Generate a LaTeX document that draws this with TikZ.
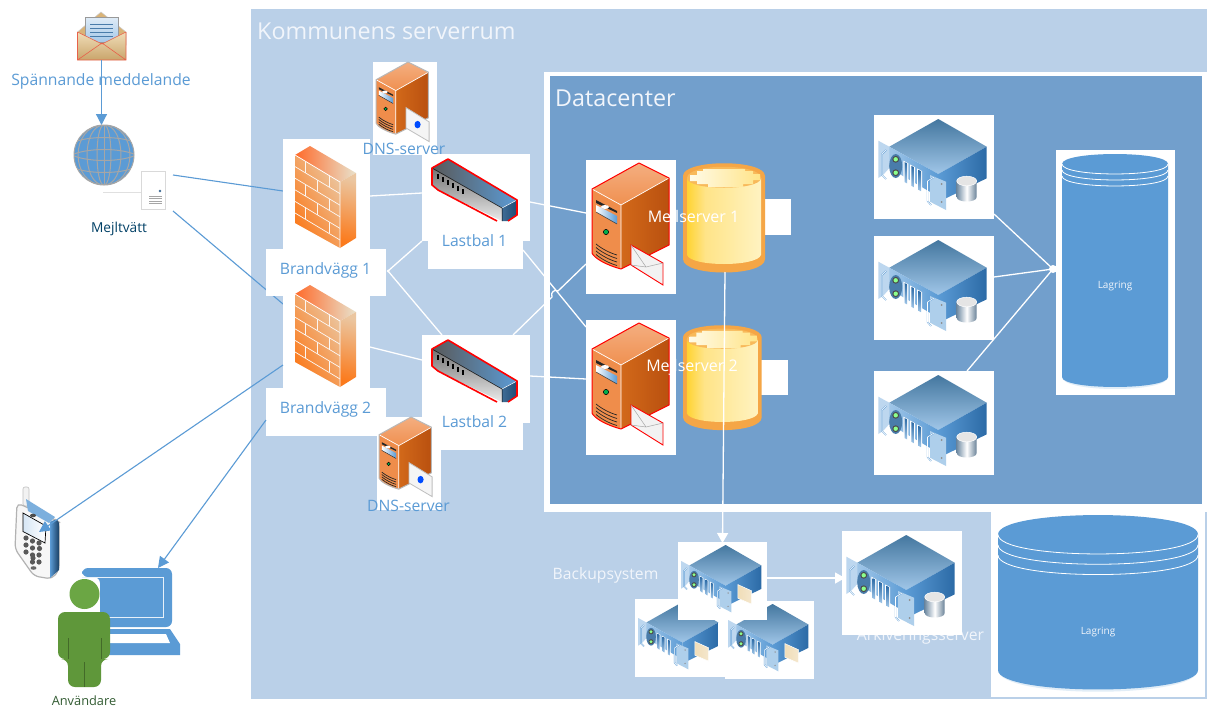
\documentclass[tikz,border=0pt]{standalone}
\usepackage{fontspec}
\setmainfont{Open Sans}
\usetikzlibrary{arrows.meta}
\definecolor{panel}{HTML}{BAD0E8}
\definecolor{dcblue}{HTML}{729FCC}
\definecolor{office}{HTML}{5B9BD5}
\definecolor{txtsoft}{HTML}{F1F5FB}
\definecolor{orTop}{HTML}{F4AE80}
\definecolor{orFront}{HTML}{EF8D4B}
\definecolor{orA}{HTML}{D2691A}
\definecolor{orB}{HTML}{B9500F}
\definecolor{fwPale}{HTML}{EBC6A0}
\definecolor{fwOr}{HTML}{FB7A1C}
\definecolor{fwRed}{HTML}{FF6A2A}
\definecolor{fwCream}{HTML}{E8E2CC}
\definecolor{rkA}{HTML}{44779F}
\definecolor{rkB}{HTML}{A0C6E8}
\definecolor{rkC}{HTML}{2B6AA6}
\definecolor{rkD}{HTML}{5B9BD5}
\definecolor{yA}{HTML}{FFD22E}
\definecolor{yB}{HTML}{FFE488}
\definecolor{yC}{HTML}{FFF3C2}
\definecolor{yRim}{HTML}{F5A646}
\definecolor{mlA}{HTML}{D9B377}
\definecolor{mlB}{HTML}{F0DDB8}
\definecolor{mlC}{HTML}{C9A56B}
\definecolor{grHead}{HTML}{6BA644}
\definecolor{grBody}{HTML}{5F973A}
\pgfdeclarelayer{panels}
\pgfdeclarelayer{wires}
\pgfsetlayers{panels,wires,main}
\tikzset{
  tile/.style={fill=white,draw=none,inner sep=0pt,outer sep=0pt},
  wire/.style={draw=white,line width=1.3pt},
  bwire/.style={draw=office,line width=1.1pt},
  barrow/.style={bwire,-{Triangle[length=11pt,width=11pt]}},
  warrow/.style={wire,-{Triangle[length=10pt,width=11pt]}},
  lbl/.style={inner sep=0pt,text=office,font=\fontsize{15.7}{18}\selectfont},
  sml/.style={inner sep=0pt,text=txtsoft,font=\fontsize{15.7}{18}\selectfont},
  mserv/.style={inner sep=0pt,text=white,font=\fontsize{16}{18}\selectfont},
  title/.style={inner sep=0pt,anchor=west,text=txtsoft,font=\fontsize{23.3}{26}\selectfont},
  lagtxt/.style={inner sep=0pt,text=txtsoft,font=\fontsize{10}{12}\selectfont},
}
\newcommand{\tile}[5]{%
  \pgfmathsetmacro\tlW{#4-#2}\pgfmathsetmacro\tlH{#5-#3}%
  \node[tile,minimum width=\tlW pt,minimum height=\tlH pt] (#1) at ({(#2+#4)/2},{(#3+#5)/2}) {};}
% ---------- storage cylinder: x1,ytop,x2,ybottomside,ry,gap
\newcommand{\cyl}[6]{%
  \fill[office!18] (#1,#4) .. controls (#1,#4+1.33*#5+3) and (#3,#4+1.33*#5+3) .. (#3,#4) -- cycle;
  \fill[office] (#1,#2+#5) .. controls (#1,#2+#5-1.33*#5) and (#3,#2+#5-1.33*#5) .. (#3,#2+#5)
     -- (#3,#4) .. controls (#3,#4+1.33*#5) and (#1,#4+1.33*#5) .. (#1,#4) -- cycle;
  \foreach \k in {0,1,2}{
    \draw[white,line width=.8pt] (#1,#2+#5+\k*#6) .. controls (#1,#2+#5+\k*#6+1.33*#5) and (#3,#2+#5+\k*#6+1.33*#5) .. (#3,#2+#5+\k*#6);
  }}
% ---------- orange tower server body
\newcommand{\srvbody}[1]{%
  \path[top color=orTop,bottom color=orFront!90!orTop] (53,3) -- (83,18) -- (35,45) -- (6,29) -- cycle;
  \path[left color=orA,right color=orB] (35,45) -- (83,18) -- (83,85) -- (35,109) -- cycle;
  \path[fill=orFront] (6,29) -- (35,45) -- (35,109) .. controls (20,105) and (8,98) .. (6,93) -- cycle;
  \draw[white,line width=.7pt] (6,29) -- (35,45) -- (83,18) (35,45) -- (35,109);
  \draw[#1,line width=1pt,line join=round] (6,29) -- (53,3) -- (83,18) -- (83,85) -- (35,109) .. controls (20,105) and (8,98) .. (6,93) -- cycle;
  \fill[black!85] (10,40) -- (31,51) -- (31,53) -- (10,43) -- cycle;
  \fill[white] (19,47) ellipse (4 and 2);
  \path[left color=white,right color=office] (10,45) -- (31,56) -- (31,64) -- (10,52) -- cycle;
  \draw[black!80,line width=.5pt] (10,52) -- (31,64);
  \fill[green!55!black!70!cyan] (20,72) circle (2.6);
  \draw[black,line width=.5pt] (20,72) circle (2.6);
  \foreach \d in {0,3.5,7,10.5}{\draw[black!85,line width=.7pt] (10,{84+\d}) .. controls (16,{89+\d}) and (24,{93+\d}) .. (31,{95+\d});}
}
% ---------- blue rack server
\newcommand{\rackbody}{%
  \path[top color=rkA,bottom color=rkB] (64.3,4) -- (112.7,31.7) -- (64.3,59) -- (15.3,31.7) -- cycle;
  \path[left color=rkD,right color=rkC] (64.3,59) -- (112.7,31.7) -- (112.7,63.3) -- (72,83.3) -- (64.3,81.7) -- cycle;
  \path[left color=rkB,right color=rkD] (15.3,31.7) -- (64.3,59) -- (64.3,81.7) -- (15.3,53) -- cycle;
  \path[fill=rkB!70!white] (4.3,25.7) -- (15.3,31.7) -- (15.3,53) -- (9,60) -- (4.3,63) -- cycle;
  \draw[rkD,line width=1.4pt] (12,35) -- (8,39) -- (8,60) -- (12,64);
  \draw[white,line width=.6pt] (12,35) -- (8,39) -- (8,60) -- (12,64);
  \fill[rkD!80!black] (21.7,51) ellipse (6.5 and 12);
  \foreach \ly in {44.3,57.7}{\fill[black!70] (21.7,\ly) circle (3.4); \fill[green!45!white] (21.7,\ly) circle (2.2);}
  \foreach \sx in {29.3,36.2,43.2}{
    \path[fill=white] (\sx,{45.7+(\sx-29.3)*.56}) -- ++(5,2.7) -- ++(0,22.7) -- ++(-5,-2.7) -- cycle;
    \path[bottom color=rkB,top color=rkC] ({\sx+1.2},{47+(\sx-29.3)*.56}) -- ++(2.6,1.4) -- ++(0,20) -- ++(-2.6,-1.4) -- cycle;
  }
  \path[fill=rkB!85!white] (56,60) -- (72,66.7) -- (72,95) -- (56,86.7) -- cycle;
  \draw[rkD,line width=1.4pt] (60,62) -- (53.5,66) -- (53.5,86) -- (57,90);
  \draw[white,line width=.6pt] (60,62) -- (53.5,66) -- (53.5,86) -- (57,90);
  \fill[black!45] (67.7,69) circle (1) (67.7,87) circle (1);
}
\tikzset{
 mailsrv/.pic={
  \srvbody{red}
  \path[fill=black!5,draw=red,line width=.9pt] (45,85) -- (77,103) -- (77,125) -- (45,105) -- cycle;
  \draw[black!35,line width=.5pt] (45,85) -- (60,107) -- (77,103) (45,105) -- (60,107);
 },
 dnssrv/.pic={
  \srvbody{black!28}
  \path[fill=black!4,draw=black!25,line width=.8pt] (50,70) -- (84,91) -- (84,120) -- (50,100) -- cycle;
  \fill[blue!70!cyan] (67,95) ellipse (4.5 and 5.5);
 },
 rackdb/.pic={
  \rackbody
  \path[left color=black!30!rkB,right color=black!35!rkB,middle color=white] (82.7,66) -- (82.7,82) .. controls (82.7,88) and (102.7,88) .. (102.7,82) -- (102.7,66) -- cycle;
  \path[fill=black!10,draw=white,line width=.5pt] (92.7,66) ellipse (10 and 4.8);
 },
 rackpaper/.pic={
  \rackbody
  \path[left color=mlB,right color=mlB!70!white,draw=white,line width=.5pt] (81,57.6) -- (99.6,66) -- (99.6,84) -- (81,76) -- cycle;
 },
 % ---------- firewall
 fwall/.pic={
  \path[left color=fwRed,right color=fwCream] (0,9) -- (15,0) -- (61,27) -- (45,36) -- cycle;
  \path[top color=fwPale,bottom color=fwOr,shading angle=-60] (0,9) -- (45,36) -- (45,102) -- (0,77) -- cycle;
  \path[top color=fwPale,bottom color=fwOr,shading angle=-15] (45,36) -- (61,27) -- (61,92) -- (45,102) -- cycle;
  \draw[white,line width=.7pt] (0,9) -- (45,36) -- (45,102);
  \foreach \k in {1,...,5}{\draw[white!85!fwPale,line width=.7pt] (0,{9+\k*11.6}) -- (45,{36+\k*11.6});}
  \foreach \r/\jx in {0/34,0/10,1/22,2/34,2/10,3/22,4/34,4/10}{
    \draw[white!85!fwPale,line width=.7pt] (\jx,{9+\r*11.6+.6*\jx}) -- (\jx,{9+(\r+1)*11.6+.6*\jx});}
 },
 % ---------- load balancer
 lbal/.pic={
  \path[left color=black!65,right color=office] (0,9) -- (16,0) -- (85,41) -- (70,49) -- cycle;
  \path[top color=black!55,bottom color=black!8] (0,9) -- (70,49) -- (70,62) -- (6,31) -- (0,26) -- cycle;
  \path[left color=office!70!black,right color=rkC!70!black] (70,49) -- (85,41) -- (85,56) -- (76,62) -- (70,62) -- cycle;
  \draw[white,line width=.5pt] (70,49) -- (85,41);
  \draw[black,line width=.5pt] (0,9) -- (70,49) -- (70,62);
  \foreach \i in {0,...,5}{\fill[black] ({5+\i*5},{15+\i*3}) rectangle ++(1.8,5);}
  \draw[red,line width=1.6pt,line join=round] (65,62) -- (6,31) -- (0,26) -- (0,9) -- (16,0) -- (85,41) -- (85,56) -- (76,62);
 },
 % ---------- yellow database
 ydb/.pic={
  \path[fill=yRim] (0,13) .. controls (0,-4) and (82,-4) .. (82,13) -- (82,96) .. controls (82,114) and (0,114) .. (0,96) -- cycle;
  \begin{scope}
  \clip (4,15) -- (4,92) .. controls (8,104) and (74,104) .. (78,92) -- (78,15) -- cycle;
  \path[left color=yA,right color=yB] (3,0) rectangle (22,110);
  \path[left color=yB,right color=yC] (22,0) rectangle (79,110);
  \end{scope}
  \path[fill=yRim!70!yB] (4,15) .. controls (4,28) and (78,28) .. (78,15) .. controls (78,0) and (4,0) .. (4,15);
  \path[left color=yC!40!white,right color=yB] (14,8) -- (20,8) -- (20,6) -- (62,6) -- (62,8) -- (70,8) -- (70,11) -- (77,11) -- (77,17) -- (70,17) -- (70,21) -- (60,21) -- (60,24) -- (25,24) -- (25,21) -- (14,21) -- (14,18) -- (7,18) -- (7,12) -- (14,12) -- cycle;
 },
}
\begin{document}
\begin{tikzpicture}[x=1pt,y=-1pt]
\useasboundingbox (0,0) rectangle (1207,707);
\begin{pgfonlayer}{panels}
\fill[white] (0,0) rectangle (1207,707);
\fill[panel] (251,8.5) rectangle (1207,699);
\fill[white] (544,71.5) rectangle (1207,512);
\fill[dcblue] (550,76) rectangle (1202,504);
\fill[white] (991,512) rectangle (1205,697);
\end{pgfonlayer}
\node[title] (tkommun) at (257,31) {Kommunens serverrum};
\node[title] (tdc) at (555,98) {Datacenter};
% ----- text partly covered by its neighbour's tile
\node[sml] (tark) at (920.5,636.5) {Arkiveringsserver};
\node[sml] (tback) at (605.5,575) {Backupsystem};
% ----- tile nodes
\tile{fw1}{283}{139}{370}{250}
\tile{fw1l}{266}{249}{386}{296}
\tile{fw2}{283}{296}{370}{389}
\tile{fw2l}{266}{388}{386}{436}
\tile{lb1}{422}{154}{530}{241}
\tile{lb1l}{428}{241}{523}{269}
\tile{lb2}{422}{335}{530}{423}
\tile{lb2l}{428}{423}{523}{450}
\tile{ms1}{586}{160}{676}{294}
\tile{ms2}{586}{320}{676}{455}
\tile{bx1}{755}{199}{791}{235}
\tile{bx2}{753}{360}{788}{395}
\tile{st1}{874}{115}{994}{219}
\tile{st2}{874}{236}{994}{340}
\tile{st3}{874}{371}{994}{475}
\tile{stor}{1056}{150}{1175}{395}
\tile{ark}{842}{531}{962}{635}
\tile{dns1}{373}{62}{437}{155}
\tile{dns2}{377}{417}{441}{510}
\tile{bk2}{635}{599}{725}{677}
\tile{bk3}{725}{601}{814}{679}
\pic[scale=.74] at (635,599) {rackpaper};
\pic[scale=.74] at (725,601) {rackpaper};
\tile{bk1}{678}{542}{767}{620}
\pic[scale=.74] at (678,542) {rackpaper};
% free ends and bends
\coordinate (db1b) at (725,272);
\coordinate (junc) at (388,271);
\coordinate (stj) at (1053,269);
\coordinate (mailb) at (101.5,60);
\coordinate (globet) at (101.5,125);
\coordinate (washa) at (173,175);
\coordinate (washb) at (173,211);
\coordinate (washl) at (103,192.5);
\coordinate (washs) at (141,192.5);
\coordinate (phonet) at (39,532);
\coordinate (lapt) at (158,568);
\coordinate (jumpa) at (552,297);
\coordinate (jumpb) at (558,291);
% ----- wires (they run under the tiles)
\begin{pgfonlayer}{wires}
\draw[bwire] (washa) -- ([yshift=3.5pt]fw1.west);
\draw[bwire] (washb) -- ([yshift=-8pt]fw2.north west);
\draw[black!12,line width=1pt] (washl) -- (washs);
\draw[wire] ([yshift=-1.5pt]fw1.east) -- ([yshift=4.5pt]lb1.west);
\draw[wire] (junc) -- (lb1.south west);
\draw[wire] (junc) -- ([xshift=20pt]lb2.north west);
\fill[white] (junc) circle (1.5);
\draw[wire] ([yshift=-4.5pt]lb1.east) -- ([yshift=14pt]ms1.west);
\draw[wire] ([yshift=-9pt]lb1l.north east) -- ([yshift=-7pt]ms2.north west);
\draw[wire] ([xshift=-17pt]lb2.north east) -- (jumpa) .. controls (550,292) and (555,289) .. (jumpb) -- ([yshift=-37pt]ms1.west);
\draw[wire] ([yshift=-4.5pt]fw2.east) -- ([yshift=19pt]lb2.west);
\draw[wire] ([yshift=3pt]lb2.east) -- ([yshift=8.5pt]ms2.west);
\draw[wire] ([yshift=5pt]st1.south east) -- (stj);
\draw[wire] ([yshift=11pt]st2.east) -- (stj);
\draw[wire] ([xshift=-27pt]st3.north east) -- (stj);
\fill[white] (stj) circle (4);
\end{pgfonlayer}
% ----- storage
\cyl{1062}{154}{1168}{377}{10}{6}
\cyl{998}{515}{1198}{670}{19.5}{10.3}
\node[lagtxt] (lag1) at (1115,286.5) {Lagring};
\node[lagtxt] (lag2) at (1098,632.5) {Lagring};
% ----- firewalls
\pic at (295,146) {fwall};
\pic at (295,285) {fwall};
% ----- load balancers
\pic at (432,159) {lbal};
\pic at (432,340) {lbal};
% ----- servers
\pic at (586,160) {mailsrv};
\pic at (586,320) {mailsrv};
\pic[scale=.68] at (372,60) {dnssrv};
\pic[scale=.68] at (375,415) {dnssrv};
% ----- databases
\pic at (683,163) {ydb};
\pic[scale=.96] at (683,325) {ydb};
% ----- racks
\pic at (874,115) {rackdb};
\pic at (874,236) {rackdb};
\pic at (874,371) {rackdb};
\pic at (842,531) {rackdb};
\draw[warrow] (db1b) -- ([yshift=-1pt]bk1.north);
\draw[warrow] ([yshift=3pt]bk1.east) -- ([xshift=3pt,yshift=-47pt]ark.north west);
% ----- labels
\node[lbl] (tfw1) at (325.5,270) {Brandvägg 1};
\node[lbl] (tfw2) at (325.5,409) {Brandvägg 2};
\node[lbl] (tlb1) at (474.5,241) {Lastbal 1};
\node[lbl] (tlb2) at (474.5,422) {Lastbal 2};
\node[lbl] (tdns1) at (404,149) {DNS-server};
\node[lbl] (tdns2) at (408.5,505.5) {DNS-server};
\node[mserv] (tms1) at (693.5,218) {Mejlserver 1};
\node[mserv] (tms2) at (692,367) {Mejlserver 2};
% ----- left column
% envelope
\path[fill=mlA,draw=black!20,line width=.5pt] (77.5,32) -- (101,12) -- (126,32) -- (126,45) -- (77.5,45) -- cycle;
\path[top color=office!20!white,bottom color=office!55!white,draw=black!40,line width=.7pt] (85,17.5) rectangle (118.5,42);
\foreach \ly in {24,28,32,36}{\draw[office!80!black,line width=.5pt] (90,\ly) -- (113,\ly);}
\path[top color=mlB,bottom color=mlC] (77.5,32) -- (102,44) -- (126,32) -- (126,60) -- (77.5,60) -- cycle;
\draw[red!55!brown!80,line width=.6pt] (77.5,60) -- (102,43) -- (126,60) (77.5,32) -- (102,44) -- (126,32) (77.5,32) -- (77.5,60) -- (126,60) -- (126,32);
\node[lbl] (tmsg) at (101,81.5) {Spännande meddelande};
\draw[barrow,line width=1.2pt] (mailb) -- (globet);
% globe
\fill[office] (104,155) circle (30);
\begin{scope}
\clip (104,155) circle (30);
\foreach \rx in {7,17,26}{\draw[black!35,line width=1pt] (104,125) .. controls ({104-1.33*\rx},125) and ({104-1.33*\rx},185) .. (104,185) .. controls ({104+1.33*\rx},185) and ({104+1.33*\rx},125) .. (104,125);}
\draw[black!35,line width=1pt] (104,125) -- (104,185);
\foreach \dy in {-19,-7,7,19}{\draw[black!35,line width=1pt] (74,{155+\dy-sign(\dy)*6}) .. controls (90,{155+\dy}) and (118,{155+\dy}) .. (134,{155+\dy-sign(\dy)*6});}
\end{scope}
\draw[black!35,line width=1pt] (104,155) circle (30);
% mail wash box
\path[fill=white,draw=black!15,line width=.8pt] (141,171) rectangle (165,209);
\fill[office!70!black] (160,191) circle (1.3);
\foreach \ly in {196,198.5,201,203.5}{\draw[black!35,line width=.8pt] (149,\ly) -- (162,\ly);}
\node[inner sep=0pt,text=blue!20!black!75!cyan,font=\fontsize{13.7}{16}\selectfont] (twash) at (119,228.5) {Mejltvätt};
% phone
\path[fill=black!5,draw=black!25,line width=.6pt,rounded corners=2pt] (23,487) rectangle (29,506);
\path[fill=black!3,draw=black!30,line width=1.2pt,rounded corners=5pt] (17,503) -- (56,520) -- (59,522) -- (59,570) -- (52,579) -- (34,576) -- (15,549) -- cycle;
\path[left color=office,right color=rkC!60!black,draw=none] (50,522) .. controls (53,520) and (58,518) .. (59,523) -- (59,570) -- (50,578) -- cycle;
\fill[office!80] (26,499) -- (55,517) -- (49,523) -- (28,511) -- cycle;
\path[left color=office!25!white,right color=white,draw=black,line width=.7pt] (23,513) -- (46,526) -- (45,543) -- (23,531.5) -- cycle;
\fill[black!70] (33,515.5) ellipse (3 and 1.8);
\foreach \kx/\ky in {26/538,32.5/541,39.5/548.5,26/545,32.5/548,39/555,26/552,32.5/555,39/562,33/558,39/543,32.5/562}{
  \fill[black!65] (\kx,\ky) circle (2.6);}
\fill[black!60] (33.5,568) ellipse (3 and 1.8);
\draw[barrow] ([yshift=24pt]fw2.south west) -- (phonet);
% laptop
\path[fill=office,rounded corners=6pt] (82,577) -- (82,568) -- (172,568) -- (172,627) -- (100,627) -- (100,577) -- cycle;
\draw[white!85!office,line width=.7pt] (82,577) -- (163,577) -- (163,617) -- (100,617);
\fill[office] (100,629) -- (170,629) -- (180,644) -- (180,655) -- (100,655) -- cycle;
\fill[white] (100,634) -- (166,634) -- (170,643) -- (100,643) -- cycle;
\draw[barrow] ([yshift=16pt]fw2l.south west) -- (lapt);
% user
\fill[grHead] (84.5,594) circle (15);
\path[fill=grBody,rounded corners=7pt] (58,659) -- (58,612) -- (110,612) -- (110,659) -- (101,659) -- (101,687) -- (68,687) -- (68,659) -- cycle;
\draw[grBody!70!black,line width=.4pt] (68,638) -- (68,659) (101,638) -- (101,659) (84.5,662) -- (84.5,687);
\node[inner sep=0pt,text=green!20!black!80,font=\fontsize{12.8}{15}\selectfont] (tuser) at (84,701) {Användare};
\end{tikzpicture}
\end{document}
